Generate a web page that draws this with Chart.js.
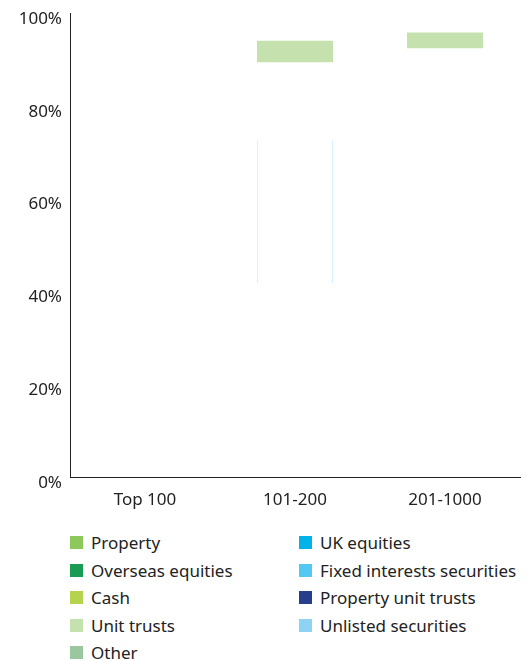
<!DOCTYPE html>
<html>
<head>
<meta charset="utf-8">
<script src="https://cdn.jsdelivr.net/npm/chart.js@4/dist/chart.umd.min.js"></script>
<style>
  html, body { margin: 0; padding: 0; background: #fff; }
  #wrap { position: relative; width: 531px; height: 661px; font-family: "Noto Sans", sans-serif; color: #222; }
  #chartBox { position: absolute; left: 0; top: 0; width: 531px; height: 520px; }
  #legend { position: absolute; left: 70px; top: 529px; width: 461px; display: grid;
    grid-template-columns: 229px 232px; grid-auto-flow: column;
    grid-template-rows: repeat(5, 27.5px); font-size: 17px; }
  .item { display: flex; align-items: center; white-space: nowrap; }
  .sw { width: 13px; height: 13px; margin-right: 8px; flex: none; }
</style>
</head>
<body>
<div id="wrap">
  <div id="chartBox"><canvas id="allocationChart"></canvas></div>
  <div id="legend"></div>
</div>
<script>
const categories = ['Top 100', '101-200', '201-1000'];

const seriesNames = [
  'Property', 'Overseas equities', 'Cash', 'Unit trusts', 'Other',
  'UK equities', 'Fixed interests securities', 'Property unit trusts', 'Unlisted securities',
];

const seriesColors = [
  '#8dc85a', '#1a9b53', '#b5d34d', '#c5e1ad', '#9bc79f',
  '#00b3e8', '#52c8f2', '#263f8c', '#8ed3f3',
];

// only these segments show up in the picture (low %, high %)
const unitTrustsRange = [null, [89.4, 94.0], [92.4, 95.8]];
const unlistedRange = [null, [41.8, 72.6], null];

const yTicks = [0, 20, 40, 60, 80, 100];

const seriesData = seriesNames.map((name) => {
  if (name === 'Unit trusts') return unitTrustsRange;
  if (name === 'Unlisted securities') return unlistedRange;
  return categories.map(() => null);
});

const datasets = seriesNames.map((name, i) => {
  const faint = name === 'Unlisted securities';
  return {
    label: name,
    data: seriesData[i],
    backgroundColor: faint ? 'rgba(255, 255, 255, 0)' : seriesColors[i],
    borderColor: faint ? 'rgba(142, 211, 243, 0.35)' : seriesColors[i],
    borderWidth: faint ? { left: 1, right: 1, top: 0, bottom: 0 } : 0,
    borderSkipped: false,
    grouped: false,
    barPercentage: 0.507,
    categoryPercentage: 1,
  };
});

const legendEl = document.getElementById('legend');
seriesNames.forEach((name, i) => {
  const item = document.createElement('div');
  item.className = 'item';
  const sw = document.createElement('span');
  sw.className = 'sw';
  sw.style.background = seriesColors[i];
  const txt = document.createElement('span');
  txt.textContent = name;
  item.appendChild(sw);
  item.appendChild(txt);
  legendEl.appendChild(item);
});

const tickFont = { family: '"Noto Sans", sans-serif', size: 17 };

new Chart(document.getElementById('allocationChart'), {
  type: 'bar',
  data: { labels: categories, datasets },
  options: {
    responsive: true,
    maintainAspectRatio: false,
    animation: false,
    layout: { padding: { top: 13, right: 11, left: 0, bottom: 0 } },
    scales: {
      x: {
        stacked: true,
        grid: { display: false, drawTicks: false },
        border: { display: true, color: '#222', width: 1 },
        ticks: { color: '#222', font: tickFont, padding: 13, maxRotation: 0 },
        afterFit: (scale) => {
          scale.height = 43;
          scale.paddingLeft = 0;
          scale.paddingRight = 0;
        },
      },
      y: {
        min: 0,
        max: 100,
        grid: { display: false, drawTicks: false },
        border: { display: true, color: '#222', width: 1 },
        afterBuildTicks: (scale) => {
          scale.ticks = yTicks.map((v) => ({ value: v }));
        },
        ticks: {
          color: '#222',
          font: tickFont,
          padding: 8,
          labelOffset: 6,
          callback: (value) => `${value}%`,
        },
        afterFit: (scale) => {
          scale.width = 70;
          scale.paddingTop = 0;
          scale.paddingBottom = 0;
        },
      },
    },
    plugins: {
      legend: { display: false },
      tooltip: { enabled: false },
    },
  },
});
</script>
</body>
</html>
